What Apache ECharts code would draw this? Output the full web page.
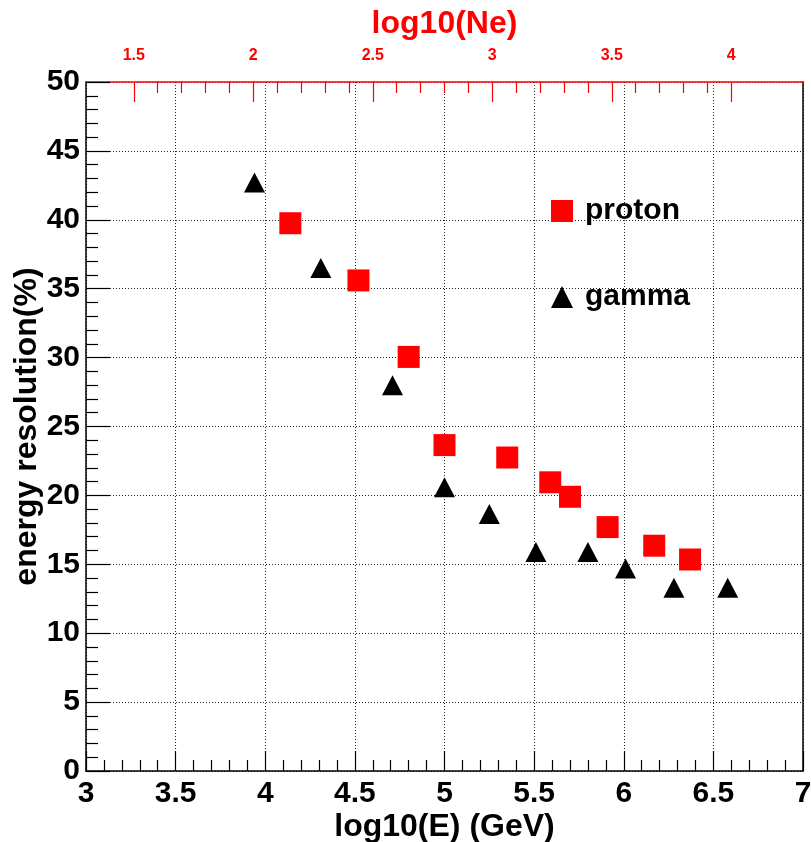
<!DOCTYPE html>
<html>
<head>
<meta charset="utf-8">
<script src="https://cdn.jsdelivr.net/npm/echarts@6/dist/echarts.min.js"></script>
<style>
html,body{margin:0;padding:0;background:#fff;}
#chart{width:811px;height:842px;}
</style>
</head>
<body>
<div id="chart"></div>
<script>
// ---- data ----
const protonX = [4.14, 4.52, 4.80, 5.00, 5.35, 5.59, 5.70, 5.91, 6.17, 6.37];
const protonY = [39.75, 35.6, 30.05, 23.65, 22.75, 20.95, 19.9, 17.7, 16.35, 15.35];
const gammaX = [3.94, 4.31, 4.71, 5.00, 5.25, 5.51, 5.80, 6.01, 6.28, 6.58];
const gammaY = [42.7, 36.5, 28.0, 20.6, 18.65, 15.9, 15.9, 14.7, 13.3, 13.3];
const seriesNames = ['proton', 'gamma'];
const xRange = [3, 7];
const yRange = [0, 50];
const neRange = [1.3, 4.3];      // top axis log10(Ne) over full frame
const neTickRange = [1.5, 4.0];  // labelled part of top axis

const FONT = '"Liberation Sans", Arial, Helvetica, sans-serif';
const G = {left: 86, right: 8, top: 82, bottom: 71};
const plotW = 811 - G.left - G.right;
const nePx = v => (v - neRange[0]) / (neRange[1] - neRange[0]) * plotW;
const G2 = {left: G.left + nePx(neTickRange[0]), right: 811 - (G.left + nePx(neTickRange[1])), top: G.top, bottom: G.bottom};

const pair = (xs, ys) => xs.map((x, i) => [x, ys[i]]);
const dotted = {show: true, lineStyle: {color: '#222', width: 1, type: [1, 2]}};

const chart = echarts.init(document.getElementById('chart'), null, {renderer: 'canvas'});
chart.setOption({
  backgroundColor: '#fff',
  animation: false,
  textStyle: {fontFamily: FONT},
  grid: [
    {left: G.left, right: G.right, top: G.top, bottom: G.bottom, containLabel: false, outerBoundsMode: 'none'},
    {left: G2.left, right: G2.right, top: G2.top, bottom: G2.bottom, containLabel: false, outerBoundsMode: 'none'}
  ],
  legend: {
    orient: 'vertical',
    left: 546, top: 191,
    itemWidth: 22, itemHeight: 22,
    itemGap: 56,
    data: seriesNames,
    textStyle: {fontFamily: FONT, fontWeight: 'bold', fontSize: 30, color: '#000', padding: [0, 0, 0, 7]}
  },
  xAxis: [
    {
      type: 'value', gridIndex: 0, position: 'bottom',
      min: xRange[0], max: xRange[1], interval: 0.5,
      axisLine: {show: true, onZero: false, lineStyle: {color: '#000', width: 1.5}},
      axisTick: {show: true, inside: true, length: 20, lineStyle: {color: '#000', width: 1.2}},
      minorTick: {show: true, splitNumber: 5, length: 11, lineStyle: {color: '#000', width: 1.2}},
      splitLine: dotted,
      axisLabel: {color: '#000', fontSize: 30, fontWeight: 'bold', fontFamily: FONT, margin: 8,
                  showMinLabel: true, showMaxLabel: true},
      name: 'log10(E) (GeV)', nameLocation: 'middle', nameGap: 40, nameMoveOverlap: false,
      nameTextStyle: {color: '#000', fontSize: 32, fontWeight: 'bold', fontFamily: FONT}
    },
    {
      type: 'value', gridIndex: 0, position: 'top',
      min: neRange[0], max: neRange[1],
      axisLine: {show: true, onZero: false, lineStyle: {color: '#ff0000', width: 1.5}},
      axisTick: {show: false}, axisLabel: {show: false}, splitLine: {show: false},
      name: 'log10(Ne)', nameLocation: 'middle', nameGap: 42, nameMoveOverlap: false,
      nameTextStyle: {color: '#ff0000', fontSize: 32, fontWeight: 'bold', fontFamily: FONT}
    },
    {
      type: 'value', gridIndex: 1, position: 'top',
      min: neTickRange[0], max: neTickRange[1], interval: 0.5,
      axisLine: {show: false, onZero: false},
      axisTick: {show: true, inside: true, length: 20, lineStyle: {color: '#ff0000', width: 1.2}},
      minorTick: {show: true, splitNumber: 5, length: 11, lineStyle: {color: '#ff0000', width: 1.2}},
      splitLine: {show: false},
      axisLabel: {color: '#ff0000', fontSize: 16, fontWeight: 'bold', fontFamily: FONT, margin: 18}
    }
  ],
  yAxis: [
    {
      type: 'value', gridIndex: 0, position: 'left',
      min: yRange[0], max: yRange[1], interval: 5,
      axisLine: {show: true, onZero: false, lineStyle: {color: '#000', width: 1.5}},
      axisTick: {show: true, inside: true, length: 24, lineStyle: {color: '#000', width: 1.2}},
      minorTick: {show: true, splitNumber: 5, length: 12, lineStyle: {color: '#000', width: 1.2}},
      splitLine: dotted,
      axisLabel: {color: '#000', fontSize: 30, fontWeight: 'bold', fontFamily: FONT, margin: 6},
      name: 'energy resolution(%)', nameLocation: 'middle', nameGap: 43, nameMoveOverlap: false,
      nameTextStyle: {color: '#000', fontSize: 32, fontWeight: 'bold', fontFamily: FONT}
    },
    {
      type: 'value', gridIndex: 0, position: 'right',
      min: yRange[0], max: yRange[1],
      axisLine: {show: true, onZero: false, lineStyle: {color: '#000', width: 1.5}},
      axisTick: {show: false}, axisLabel: {show: false}, splitLine: {show: false}
    },
    {
      type: 'value', gridIndex: 1, position: 'left', min: 0, max: 1,
      axisLine: {show: false}, axisTick: {show: false}, axisLabel: {show: false}, splitLine: {show: false}
    }
  ],
  series: [
    {
      name: seriesNames[0], type: 'scatter', xAxisIndex: 0, yAxisIndex: 0,
      symbol: 'rect', symbolSize: 22,
      itemStyle: {color: '#ff0000', opacity: 1},
      data: pair(protonX, protonY), z: 3
    },
    {
      name: seriesNames[1], type: 'scatter', xAxisIndex: 0, yAxisIndex: 0,
      symbol: 'triangle', symbolSize: [21, 20],
      itemStyle: {color: '#000', opacity: 1},
      data: pair(gammaX, gammaY), z: 4
    }
  ]
});
</script>
</body>
</html>
